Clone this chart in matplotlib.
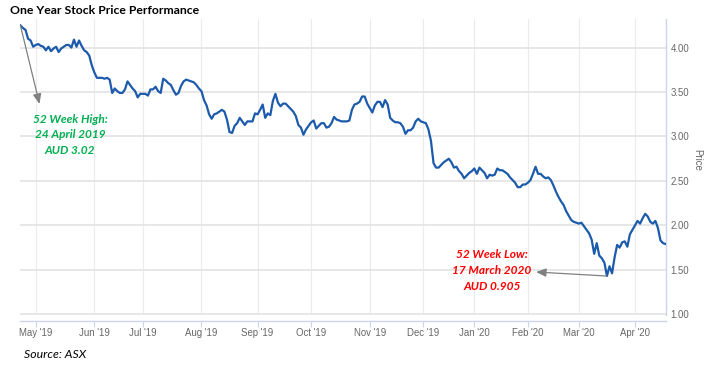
import matplotlib
matplotlib.use("Agg")
import matplotlib.pyplot as plt
import numpy as np
import pandas as pd

# ---------------- data ----------------
start_date = "2019-04-23"
end_date = "2020-04-21"
market_holidays = ["2019-06-10", "2019-12-25", "2019-12-26", "2020-01-01",
                   "2020-01-27", "2020-04-10", "2020-04-13"]

prices = [
    4.25, 4.22, 4.20, 4.10, 4.08, 4.01, 4.03, 4.04, 4.02, 4.01,
    3.97, 4.01, 3.96, 3.99, 4.01, 3.95, 3.99, 4.01, 4.03, 4.03,
    4.00, 4.09, 4.01, 4.08, 4.02, 3.97, 3.95, 3.91, 3.80, 3.72,
    3.66, 3.66, 3.66, 3.65, 3.66, 3.64, 3.49, 3.54, 3.51, 3.49,
    3.49, 3.53, 3.62, 3.58, 3.54, 3.51, 3.44, 3.48, 3.48, 3.48,
    3.46, 3.53, 3.53, 3.56, 3.51, 3.49, 3.65, 3.63, 3.60, 3.58,
    3.52, 3.47, 3.49, 3.57, 3.62, 3.64, 3.63, 3.62, 3.61, 3.58,
    3.54, 3.51, 3.41, 3.35, 3.25, 3.20, 3.25, 3.26, 3.28, 3.30,
    3.28, 3.19, 3.05, 3.04, 3.12, 3.15, 3.21, 3.17, 3.13, 3.17,
    3.17, 3.17, 3.26, 3.25, 3.30, 3.36, 3.21, 3.26, 3.24, 3.40,
    3.48, 3.38, 3.34, 3.37, 3.37, 3.34, 3.31, 3.28, 3.23, 3.13,
    3.10, 3.02, 3.08, 3.12, 3.16, 3.18, 3.09, 3.12, 3.15, 3.15,
    3.10, 3.11, 3.15, 3.22, 3.19, 3.18, 3.17, 3.17, 3.17, 3.18,
    3.30,
    3.36, 3.37, 3.39, 3.45, 3.45, 3.37, 3.32, 3.27, 3.35, 3.39,
    3.39, 3.33, 3.41, 3.36, 3.21, 3.18, 3.16, 3.16, 3.15, 3.11,
    3.03, 3.07, 3.07, 3.10, 3.17, 3.20, 3.17, 3.16, 3.15, 3.08,
    2.95, 2.70, 2.65, 2.65, 2.68, 2.71, 2.73, 2.75, 2.71, 2.65,
    2.66, 2.61, 2.58, 2.53, 2.56, 2.59, 2.61, 2.64, 2.58, 2.65,
    2.62, 2.59, 2.53, 2.57, 2.56, 2.57, 2.64, 2.62, 2.62, 2.60,
    2.58, 2.54, 2.51, 2.48, 2.43, 2.43, 2.46, 2.46, 2.48, 2.51,
    2.58, 2.66, 2.58, 2.58, 2.55, 2.53, 2.54, 2.51, 2.45, 2.38,
    2.32, 2.27, 2.23, 2.16, 2.11, 2.06, 2.04, 2.03, 2.02, 2.03,
    1.99, 1.95, 1.91, 1.84, 1.68, 1.80, 1.66, 1.63, 1.58,
    1.43, 1.54, 1.46, 1.64, 1.78, 1.75, 1.81, 1.82, 1.76, 1.90, 1.95,
    2.00, 2.05, 2.02, 2.08, 2.13, 2.10, 2.04, 2.02, 2.05, 1.97, 1.83, 1.80, 1.79,
]

y_ticks = [1.00, 1.50, 2.00, 2.50, 3.00, 3.50, 4.00]

title = "One Year Stock Price Performance"
high_note = "52 Week High:\n24 April 2019\nAUD 3.02"
low_note = "52 Week Low:\n17 March 2020\nAUD 0.905"
source = "Source: ASX"

# ---------------- build ----------------
dates = pd.bdate_range(start_date, end_date, freq="C", holidays=market_holidays)
n = min(len(dates), len(prices))
dates = dates[:n]
vals = np.array(prices[:n])
idx = np.arange(n)

# first trading day of each month (skip the partial first month)
months = pd.Series(idx, index=dates)
firsts = months.groupby([dates.year, dates.month]).min().values[1:]
tick_labels = [dates[i].strftime("%b '%y") for i in firsts]

W, H = 712, 366
fig = plt.figure(figsize=(W / 100, H / 100), dpi=100)
fig.patch.set_facecolor("white")

left_px, right_px, top_px, bot_px = 20.4, 665.6, 19, 314.7
ax = fig.add_axes([left_px / W, 1 - bot_px / H,
                   (right_px - left_px) / W, (bot_px - top_px) / H])

ax.plot(idx, vals, color="#1c5bab", lw=1.6, solid_joinstyle="round", zorder=3)

ax.set_xlim(0, n - 1)
ax.set_ylim(0.995, 4.322)

# grid
ax.set_yticks(y_ticks)
ax.set_yticklabels([f"{v:.2f}" for v in y_ticks])
ax.set_xticks(firsts)
ax.set_xticklabels(tick_labels)
ax.grid(axis="y", color="#e3e3e3", lw=1.2, zorder=0)
ax.grid(axis="x", color="#ebebeb", lw=0.8, zorder=0)
ax.set_axisbelow(True)

for s in ["left", "top"]:
    ax.spines[s].set_visible(False)
ax.spines["right"].set_color("#ccd6eb")
ax.spines["right"].set_linewidth(1.0)
ax.spines["bottom"].set_color("#ccd6eb")
ax.spines["bottom"].set_linewidth(1.0)
ax.spines["bottom"].set_position(("outward", 4.3))

ax.yaxis.tick_right()
ax.tick_params(axis="y", length=0, pad=3.5, labelsize=6.9, labelcolor="#666666")
ax.tick_params(axis="x", direction="out", length=4.3, width=0.8, color="#ccd6eb",
               pad=1.2, labelsize=6.9, labelcolor="#666666")
for lab in ax.get_xticklabels() + ax.get_yticklabels():
    lab.set_fontfamily("Liberation Sans")

fig.text(697 / W, 1 - 160 / H, "Price", rotation=270, ha="center", va="center",
         fontsize=6.9, color="#666666", family="Liberation Sans")

# title and source
fig.text(10 / W, 1 - 11 / H, title, ha="left", va="center", fontsize=8.8,
         fontweight="bold", family="Lato", color="black")
fig.text(24 / W, 1 - 354 / H, source, ha="left", va="center", fontsize=8.8,
         style="italic", family="Lato", color="black")

# annotations
def px_to_data(xp, yp):
    xd = (xp - left_px) / (right_px - left_px) * (n - 1)
    yd = 4.322 - (yp - top_px) / (bot_px - top_px) * (4.322 - 0.995)
    return xd, yd

hi_i = int(np.argmax(vals))
lo_i = int(np.argmin(vals))
arrow = dict(arrowstyle="-|>,head_length=0.6,head_width=0.25", color="#808080",
             lw=0.9, shrinkA=0, shrinkB=0)

ax.annotate("", xy=px_to_data(39.5, 104), xytext=(hi_i, vals[hi_i]),
            arrowprops=arrow, annotation_clip=False, zorder=4)
ax.annotate("", xy=px_to_data(536, 272), xytext=(lo_i, vals[lo_i]),
            arrowprops=arrow, annotation_clip=False, zorder=4)

hx, hy = px_to_data(70, 135)
ax.text(hx, hy, high_note, ha="center", va="center", color="#00b050",
        fontsize=8.6, fontweight="bold", style="italic", family="Lato",
        linespacing=1.55, zorder=5)
lx, ly = px_to_data(492, 270.5)
ax.text(lx, ly, low_note, ha="center", va="center", color="#ff0000",
        fontsize=8.6, fontweight="bold", style="italic", family="Lato",
        linespacing=1.55, zorder=5)

fig.savefig("out.png", dpi=100, facecolor="white")
